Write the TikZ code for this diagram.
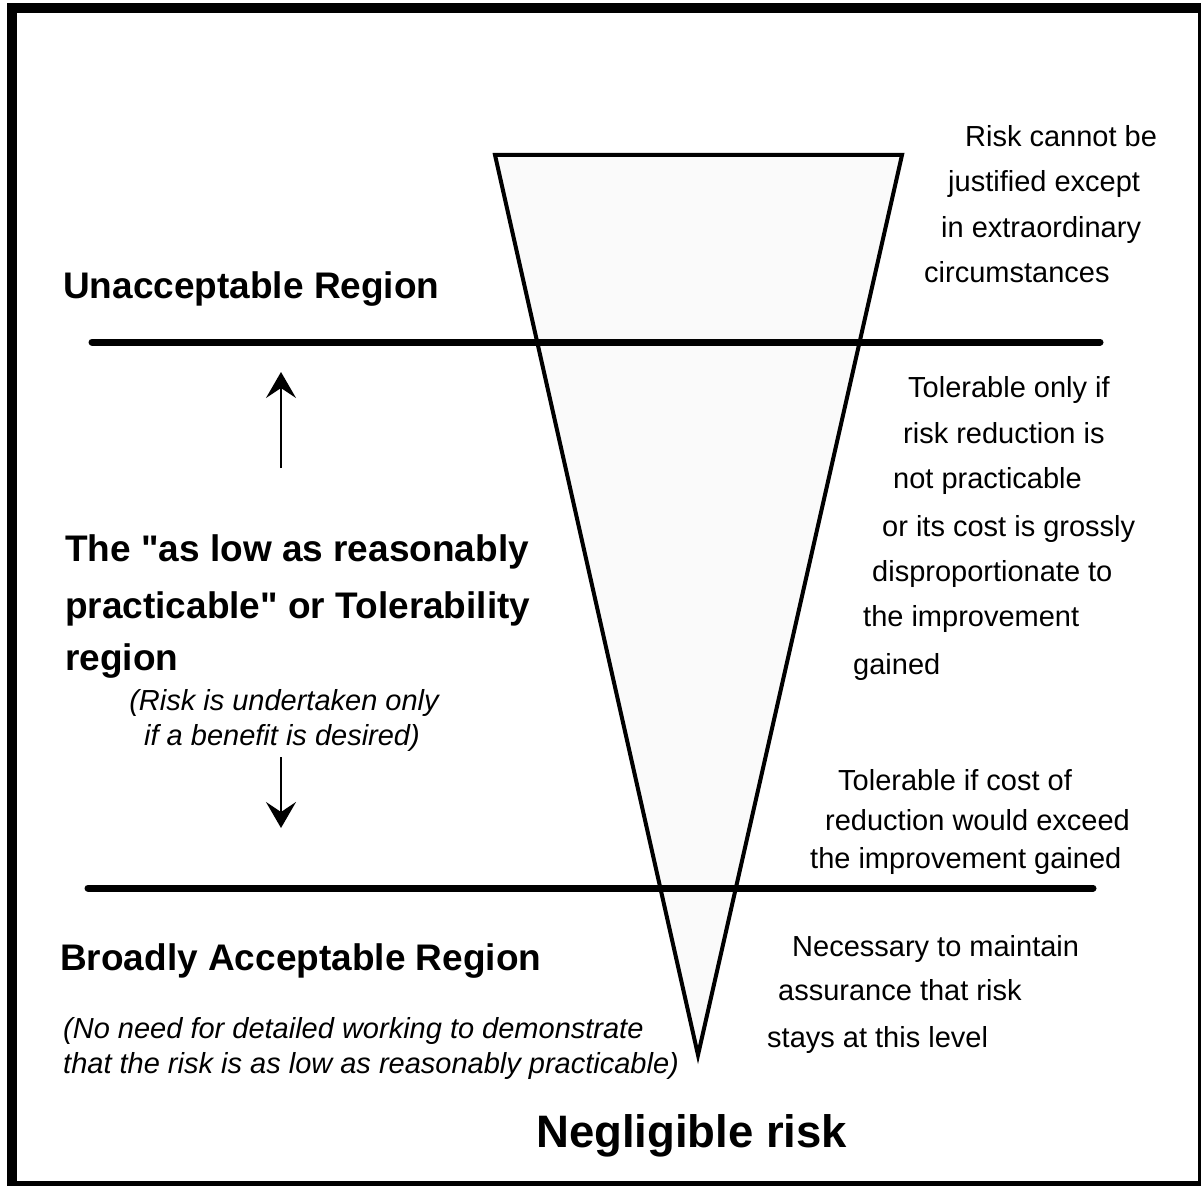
\documentclass[tikz,border=0pt]{standalone}
\usepackage{fontspec}
\setmainfont{Liberation Sans}
\usetikzlibrary{arrows.meta}

\begin{document}
\begin{tikzpicture}[x=1pt,y=-1pt,
    txt/.style={anchor=base west,inner sep=0pt,font=\fontsize{29}{34}\selectfont},
    head/.style={anchor=base west,inner sep=0pt,font=\fontsize{37}{44}\selectfont\bfseries},
    note/.style={inner sep=0pt,font=\fontsize{29}{34}\selectfont\itshape},
    bar/.style={line width=7pt,line cap=round},
    updown/.style={line width=2pt,-{Stealth[length=26pt,width=30pt,inset=10pt]}}]
    \useasboundingbox (0,0) rectangle (1201,1185);
    \draw[line width=10pt] (12,8) rectangle (1203,1186);
    % the risk triangle
    \draw[line width=4pt,fill=black!2] (495,155) -- (902,155) -- (698,1055) -- cycle;
    % region boundaries
    \draw[bar] (92,342) -- (1100,342);
    \draw[bar] (88,888) -- (1093,888);
    % left column
    \node[head] (unacc) at (63,298) {Unacceptable Region};
    \node[head] (alarp1) at (65,561) {The \textquotedbl as low as reasonably};
    \node[head] (alarp2) at (65,618) {practicable\textquotedbl\ or Tolerability};
    \node[head] (alarp3) at (65,670) {region};
    \node[note,anchor=base] (benefit1) at (284,710) {(Risk is undertaken only};
    \node[note,anchor=base] (benefit2) at (282,745) {if a benefit is desired)};
    \coordinate (upfrom) at (281,468);
    \coordinate (upto) at (281,372);
    \coordinate (downfrom) at (281,757);
    \coordinate (downto) at (281,828);
    \draw[updown] (upfrom) -- (upto);
    \draw[updown] (downfrom) -- (downto);
    \node[head] (broad) at (60,970) {Broadly Acceptable Region};
    \node[note,anchor=base west] (noneed1) at (63,1038) {(No need for detailed working to demonstrate};
    \node[note,anchor=base west] (noneed2) at (63,1073) {that the risk is as low as reasonably practicable)};
    \node[head,font=\fontsize{45.5}{54}\selectfont\bfseries] (neglig) at (536,1147) {Negligible risk};
    % right column
    \foreach \x/\y/\t [count=\i] in {965/147/Risk cannot be, 948/191/justified except,
        941/237/in extraordinary, 924/282/circumstances}
        \node[txt] (unj\i) at (\x,\y) {\t};
    \foreach \x/\y/\t [count=\i] in {908/397/Tolerable only if, 903/443/risk reduction is,
        893/488/not practicable, 882/536/or its cost is grossly, 872/581/disproportionate to,
        863/626/the improvement, 853/674/gained}
        \node[txt] (tol\i) at (\x,\y) {\t};
    \foreach \x/\y/\t [count=\i] in {838/790/Tolerable if cost of, 825/830/reduction would exceed,
        810/868/the improvement gained}
        \node[txt] (cost\i) at (\x,\y) {\t};
    \foreach \x/\y/\t [count=\i] in {792/956/Necessary to maintain, 778/1000/assurance that risk,
        767/1047/stays at this level}
        \node[txt] (keep\i) at (\x,\y) {\t};
\end{tikzpicture}
\end{document}
